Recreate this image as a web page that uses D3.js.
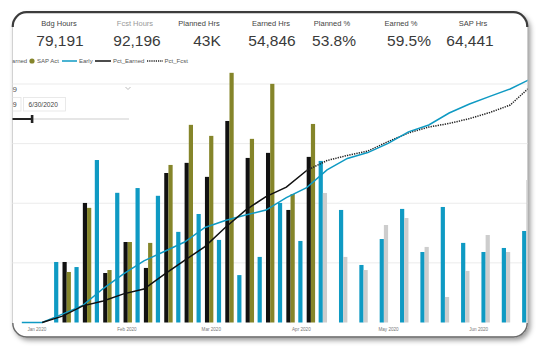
<!DOCTYPE html>
<html><head><meta charset="utf-8">
<script src="https://cdn.jsdelivr.net/npm/d3@7"></script>
<style>
html,body{margin:0;padding:0;background:#fff;}
svg{display:block;font-family:"Liberation Sans",Arial,sans-serif;}
</style></head><body>
<svg id="c" width="545" height="360"></svg>
<script>
// ---------- DATA ----------
const kpiLabels = ["Bdg Hours","Fcst Hours","Planned Hrs","Earned Hrs","Planned %","Earned %","SAP Hrs"];
const kpiValues = ["79,191","92,196","43K","54,846","53.8%","59.5%","64,441"];
const legendLabels = ["Earned","SAP Act","Early","Pct_Earned","Pct_Fcst"];
const monthTicks = ["2020-01-01","2020-02-01","2020-03-01","2020-04-01","2020-05-01","2020-06-01"];
const weeks = ["2019-12-27","2020-01-03","2020-01-10","2020-01-17","2020-01-24","2020-01-31",
  "2020-02-07","2020-02-14","2020-02-21","2020-02-28","2020-03-06","2020-03-13","2020-03-20",
  "2020-03-27","2020-04-03","2020-04-10","2020-04-17","2020-04-24","2020-05-01","2020-05-08",
  "2020-05-15","2020-05-22","2020-05-29","2020-06-05","2020-06-12","2020-06-19"];
// weekly hours (bars)
const bdgHrs   = [null,null,2030,1860,5450,4350,4510,4250,3040,3640,2770,1590,2200,4010,2735,
  5420,3775,1930,2800,3810,2365,3875,2670,2365,2500,3070];
const fcstHrs  = [null,null,null,null,null,null,null,null,null,null,null,null,null,null,null,
  4345,2200,1760,3270,3505,2535,855,1730,2935,2365,4780];
const earnedHrs= [null,null,2030,4010,1660,2700,1830,5015,5355,4885,6760,5520,5690,3775,5555,
  null,null,null,null,null,null,null,null,null,null,null];
const sapHrs   = [null,null,1695,3845,1760,2700,2670,5285,6630,6260,8375,6160,8005,4310,6660,
  null,null,null,null,null,null,null,null,null,null,null];
// cumulative percentages (lines)
const earlyPct  = [0,0,3.3,6.7,13.3,19.0,24.1,27.8,31.5,37.2,39.9,42.1,44.0,48.9,52.8,
  59.7,64.2,66.5,70.1,74.6,77.3,82.0,85.5,88.5,91.4,95.3];
const pctEarned = [null,0,2.5,6.5,8.4,11.2,13.1,18.8,24.3,29.7,37.2,44.0,49.3,53.0,59.5,
  null,null,null,null,null,null,null,null,null,null,null];
const pctFcst   = [null,null,null,null,null,null,null,null,null,null,null,null,null,null,59.5,
  63.4,65.4,67.1,70.8,74.2,76.5,77.9,79.8,82.2,85.1,92.4];

// ---------- LAYOUT ----------
const C = {teal:"#0f9ac3", olive:"#85852a", black:"#111111", gray:"#cdcdcd"};
const svg = d3.select("#c");
const parse = d3.utcParse("%Y-%m-%d");
const dates = weeks.map(parse);
const CX = 12.5, CY = 12, CW = 515, CH = 325;

const defs = svg.append("defs");
const f = defs.append("filter").attr("id","sh").attr("x","-5%").attr("y","-5%").attr("width","115%").attr("height","115%");
f.append("feDropShadow").attr("dx",2.5).attr("dy",3).attr("stdDeviation",2.5)
  .attr("flood-color","#000").attr("flood-opacity",0.4);
defs.append("clipPath").attr("id","card").append("rect")
  .attr("x",CX).attr("y",CY).attr("width",CW).attr("height",CH).attr("rx",14);

// card
svg.append("rect").attr("x",CX).attr("y",CY).attr("width",CW).attr("height",CH).attr("rx",14)
  .attr("fill","#fff").attr("stroke","#c8c8c8").attr("stroke-width",0.8).attr("filter","url(#sh)");

const g = svg.append("g").attr("clip-path","url(#card)");

// KPI row
const kpiLabelX = [59,135,199,271,332,401,473];
const kpiValueX = [60,137,207,272,334,409,470];
const kpiLabelColor = ["#444","#999","#444","#444","#444","#444","#444"];
kpiLabels.forEach((t,i)=>{
  g.append("text").attr("x",kpiLabelX[i]).attr("y",26).attr("text-anchor","middle")
    .attr("font-size",7.5).attr("fill",kpiLabelColor[i]).text(t);
  g.append("text").attr("x",kpiValueX[i]).attr("y",45.5).attr("text-anchor","middle")
    .attr("font-size",15.5).attr("fill","#3a3a3a").text(kpiValues[i]);
});

// scales
const x = d3.scaleUtc().domain([parse("2020-01-10"), parse("2020-06-19")]).range([62.5, 62.5+161*2.907]);
const y = d3.scaleLinear().domain([0,8000]).range([322.5,84]);
const y2 = d3.scaleLinear().domain([0,100]).range([322.5,67]);
const sub = d3.scaleBand().domain(["bdg","fcst","earned","sap"]).range([-8.4,8.4]).padding(0);

// gridlines
g.append("g").selectAll("line").data(y.ticks(4).filter(d=>d>0)).join("line")
  .attr("x1",0).attr("x2",545).attr("y1",d=>y(d)).attr("y2",d=>y(d))
  .attr("stroke","#ebebeb").attr("stroke-width",1);

// legend
const ly = 61;
const lg = g.append("g").attr("font-size",6).attr("fill","#555");
lg.append("text").attr("x",7.8).attr("y",ly+2.2).text(legendLabels[0]);
lg.append("circle").attr("cx",32).attr("cy",ly).attr("r",2.6).attr("fill",C.olive);
lg.append("text").attr("x",37).attr("y",ly+2.2).text(legendLabels[1]);
lg.append("line").attr("x1",62).attr("x2",77).attr("y1",ly).attr("y2",ly).attr("stroke",C.teal).attr("stroke-width",1.5);
lg.append("text").attr("x",79).attr("y",ly+2.2).text(legendLabels[2]);
lg.append("line").attr("x1",95).attr("x2",111).attr("y1",ly).attr("y2",ly).attr("stroke","#111").attr("stroke-width",1.5);
lg.append("text").attr("x",113).attr("y",ly+2.2).text(legendLabels[3]);
lg.append("line").attr("x1",147).attr("x2",163).attr("y1",ly).attr("y2",ly).attr("stroke","#222").attr("stroke-width",1.3).attr("stroke-dasharray","1.2,1");
lg.append("text").attr("x",164.5).attr("y",ly+2.2).text(legendLabels[4]);

// slicer
const sl = g.append("g");
sl.append("text").attr("x",12.5).attr("y",92).attr("font-size",8).attr("fill","#555").text("9");
sl.append("polyline").attr("points","125.5,87 128,89.5 130.5,87").attr("fill","none").attr("stroke","#aaa").attr("stroke-width",0.8);
sl.append("rect").attr("x",2).attr("y",97.5).attr("width",19).attr("height",13.5).attr("fill","none").attr("stroke","#e4e4e4").attr("stroke-width",0.8);
sl.append("text").attr("x",12.8).attr("y",107).attr("font-size",7).attr("fill","#444").text("9");
sl.append("rect").attr("x",23.5).attr("y",97.5).attr("width",42).attr("height",13.5).attr("fill","none").attr("stroke","#e4e4e4").attr("stroke-width",0.8);
sl.append("text").attr("x",28.5).attr("y",107).attr("font-size",6.6).attr("fill","#444").text("6/30/2020");
sl.append("line").attr("x1",32).attr("x2",129).attr("y1",119).attr("y2",119).attr("stroke","#e6e6e6").attr("stroke-width",2);
sl.append("line").attr("x1",0).attr("x2",32).attr("y1",119).attr("y2",119).attr("stroke","#222").attr("stroke-width",2);
sl.append("rect").attr("x",30.8).attr("y",115).attr("width",2.6).attr("height",8).attr("fill","#222");

// bars
const series = [["bdg",bdgHrs,C.teal],["fcst",fcstHrs,C.gray],["earned",earnedHrs,C.black],["sap",sapHrs,C.olive]];
const bars = g.append("g");
series.forEach(([k,vals,col])=>{
  const d = vals.map((v,i)=>({v,dt:dates[i]})).filter(o=>o.v!=null);
  bars.append("g").selectAll("rect").data(d).join("rect")
    .attr("x",o=>x(o.dt)+sub(k)).attr("width",sub.bandwidth())
    .attr("y",o=>y(o.v)).attr("height",o=>y(0)-y(o.v)).attr("fill",col);
});

// lines
const line = d3.line().defined(o=>o.v!=null).x(o=>x(o.dt)).y(o=>y2(o.v));
const mk = vals=>vals.map((v,i)=>({v,dt:dates[i]}));
g.append("path").datum(mk(pctFcst)).attr("d",line).attr("fill","none").attr("stroke","#222")
  .attr("stroke-width",1.5).attr("stroke-dasharray","1.3,1.1");
g.append("path").datum(mk(earlyPct)).attr("d",line).attr("fill","none").attr("stroke",C.teal).attr("stroke-width",1.5);
g.append("path").datum(mk(pctEarned)).attr("d",line).attr("fill","none").attr("stroke","#111").attr("stroke-width",1.5);

// x axis
const ax = g.append("g").attr("transform","translate(0,324)")
  .call(d3.axisBottom(x).tickValues(monthTicks.map(parse)).tickFormat(d3.utcFormat("%b %Y")).tickSize(0).tickPadding(3.5));
ax.select(".domain").remove();
ax.selectAll("text").attr("font-size",4.6).attr("fill","#777").attr("font-family","Liberation Sans, Arial, sans-serif");

// card borders
svg.append("path").attr("d",`M${CX+0.3},27 A14,14 0 0 1 ${CX+14},12.2 H${CX+CW-14} A14,14 0 0 1 ${CX+CW-0.3},27`)
  .attr("fill","none").attr("stroke","#3c3c3c").attr("stroke-width",2.2);
svg.append("path").attr("d",`M${CX+0.3},323 A14,14 0 0 0 ${CX+14},337 H${CX+CW-14} A14,14 0 0 0 ${CX+CW-0.3},323`)
  .attr("fill","none").attr("stroke","#6a6a6a").attr("stroke-width",1.4);
</script>
</body></html>
